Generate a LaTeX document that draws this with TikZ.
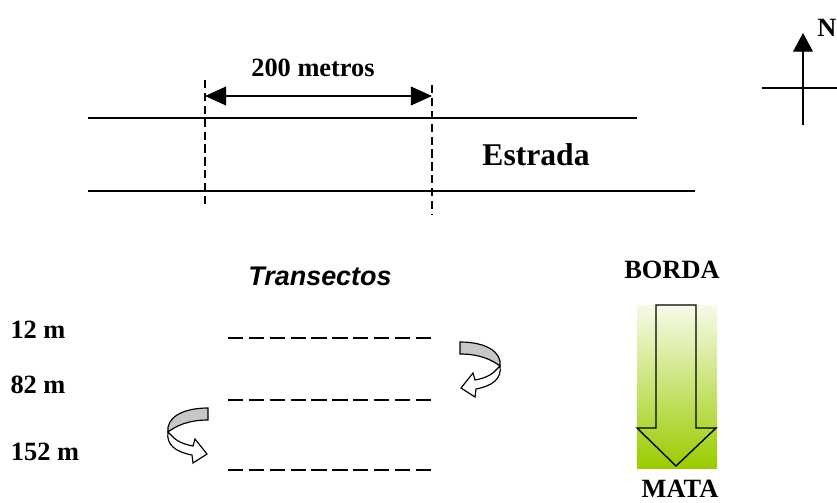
\documentclass[tikz,border=0pt]{standalone}
\usepackage{fontspec}
\setmainfont{Liberation Serif}
\newfontfamily\arialfont{Liberation Sans}
\usepackage{tikz}
\usetikzlibrary{arrows.meta}
\definecolor{MataGreen}{RGB}{153,204,0}
\definecolor{BordaPale}{RGB}{247,250,232}

\tikzset{
  giro/.pic={
    \draw[line width=1pt, fill=black!22] (0,0) .. controls (26,0) and (42,10) .. (40,24) .. controls (32,18) and (20,12) .. (0,12) -- cycle;
    \draw[line width=1pt, fill=white] (40,24) .. controls (42,37) and (32,44) .. (16,47) -- (15,55) -- (1,46) -- (13,31) -- (15,38) .. controls (26,36) and (33,32) .. (37,27) -- cycle;
  }
}

\begin{document}
\begin{tikzpicture}[x=0.03cm, y=-0.03cm]
	\tikzstyle{every node}=[font=\fontsize{22.5}{27}\selectfont\bfseries, inner sep=0pt];
	\tikzstyle{linha}=[line width=1.3pt];
	\tikzstyle{tracejada}=[line width=1pt, dash pattern=on 7pt off 4pt];
	\tikzstyle{transecto}=[line width=1.3pt, dash pattern=on 13pt off 4.8pt];
	\useasboundingbox (0,0) rectangle (837,502);
	% estrada
	\coordinate (e1a) at (88,118);
	\coordinate (e1b) at (637,118);
	\coordinate (e2a) at (88,191);
	\coordinate (e2b) at (695,191);
	\draw[linha] (e1a) -- (e1b);
	\draw[linha] (e2a) -- (e2b);
	\coordinate (v1a) at (205,80);
	\coordinate (v1b) at (205,207);
	\coordinate (v2a) at (432,85);
	\coordinate (v2b) at (432,215);
	\draw[tracejada] (v1a) -- (v1b);
	\draw[tracejada] (v2a) -- (v2b);
	\coordinate (d1) at (205,96);
	\coordinate (d2) at (432,96);
	\draw[line width=1pt, {Triangle[length=18pt,width=16pt]}-{Triangle[length=18pt,width=16pt]}] (d1) -- (d2);
	\node (dist) at (313,68) {200 metros};
	\node[font=\fontsize{27}{32}\selectfont\bfseries] (estrada) at (536,155) {Estrada};
	% norte
	\coordinate (ns) at (803,125);
	\coordinate (nn) at (803,33);
	\coordinate (nw) at (762,88);
	\coordinate (ne) at (837,88);
	\draw[line width=1pt] (nw) -- (ne);
	\draw[line width=1pt, -{Triangle[length=16pt,width=17pt]}] (ns) -- (nn);
	\node (norte) at (827,28) {N};
	% transectos
	\node[font=\fontsize{23}{27}\selectfont\arialfont\bfseries\itshape] (trans) at (320,276) {Transectos};
	\node (t12) at (38,330) {12 m};
	\node (t82) at (38,385) {82 m};
	\node (t152) at (45,452) {152 m};
	\coordinate (l1a) at (228,338);
	\coordinate (l1b) at (436,338);
	\coordinate (l2a) at (228,400);
	\coordinate (l2b) at (436,400);
	\coordinate (l3a) at (228,470);
	\coordinate (l3b) at (436,470);
	\draw[transecto] (l1a) -- (l1b);
	\draw[transecto] (l2a) -- (l2b);
	\draw[transecto] (l3a) -- (l3b);
	\pic at (460,342) {giro};
	\pic[xscale=-1] at (208,408) {giro};
	% borda - mata
	\node (borda) at (672,270) {BORDA};
	\node (mata) at (680,489) {MATA};
	\shade[top color=BordaPale, bottom color=MataGreen] (637,305) rectangle (717,468);
	\draw[line width=1.2pt, line join=miter] (656,305) -- (696,305) -- (696,428) -- (716,428) -- (676,466) -- (637,428) -- (656,428) -- cycle;
\end{tikzpicture}
\end{document}
